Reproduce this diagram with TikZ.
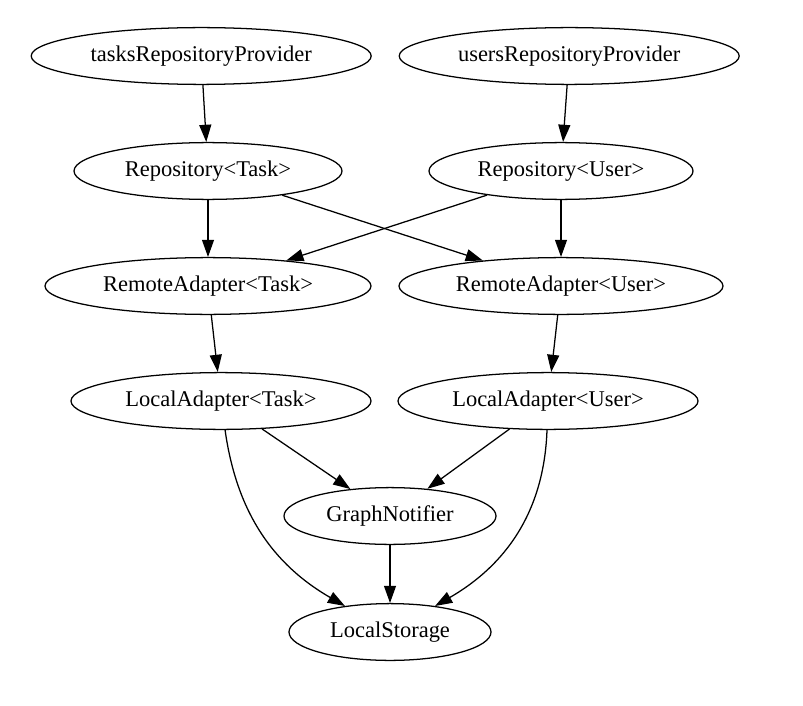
\documentclass[tikz,border=0pt]{standalone}
\usepackage{fontspec}
\setmainfont{Liberation Serif}
\usetikzlibrary{shapes,arrows.meta}
\tikzset{gv/.style={draw,ellipse,line width=0.9pt,inner sep=0pt,minimum height=1.42cm,font=\fontsize{16}{19}\selectfont},
	edge/.style={line width=0.9pt,-{Triangle[length=0.43cm,width=0.3cm]}}}
\begin{document}
\begin{tikzpicture}
	\useasboundingbox (0,0) rectangle (20.075,17.625);
\node[gv,minimum width=8.5cm] (tRP) at (5.03,16.225) {tasksRepositoryProvider};
\node[gv,minimum width=8.5cm] (uRP) at (14.23,16.225) {usersRepositoryProvider};
\node[gv,minimum width=6.7cm] (RT) at (5.2,13.35) {Repository<Task>};
\node[gv,minimum width=6.6cm] (RU) at (14.025,13.35) {Repository<User>};
\node[gv,minimum width=8.15cm] (RAT) at (5.2,10.475) {RemoteAdapter<Task>};
\node[gv,minimum width=8.1cm] (RAU) at (14.025,10.475) {RemoteAdapter<User>};
\node[gv,minimum width=7.5cm] (LAT) at (5.525,7.6) {LocalAdapter<Task>};
\node[gv,minimum width=7.5cm] (LAU) at (13.7,7.6) {LocalAdapter<User>};
\node[gv,minimum width=5.3cm] (GN) at (9.75,4.725) {GraphNotifier};
\node[gv,minimum width=5.05cm] (LS) at (9.75,1.825) {LocalStorage};
\draw[edge] (tRP) -- (RT);
\draw[edge] (uRP) -- (RU);
\draw[edge] (RT) -- (RAT);
\draw[edge] (RT) -- (RAU);
\draw[edge] (RU) -- (RAT);
\draw[edge] (RU) -- (RAU);
\draw[edge] (RAT) -- (LAT);
\draw[edge] (RAU) -- (LAU);
\draw[edge] (LAT) -- (GN);
\draw[edge] (LAU) -- (GN);
\draw[edge] (GN) -- (LS);
\draw[edge] (LAT) to[out=-82,in=150] (LS);
\draw[edge] (LAU) to[out=-92,in=30] (LS);
	\end{tikzpicture}
\end{document}
